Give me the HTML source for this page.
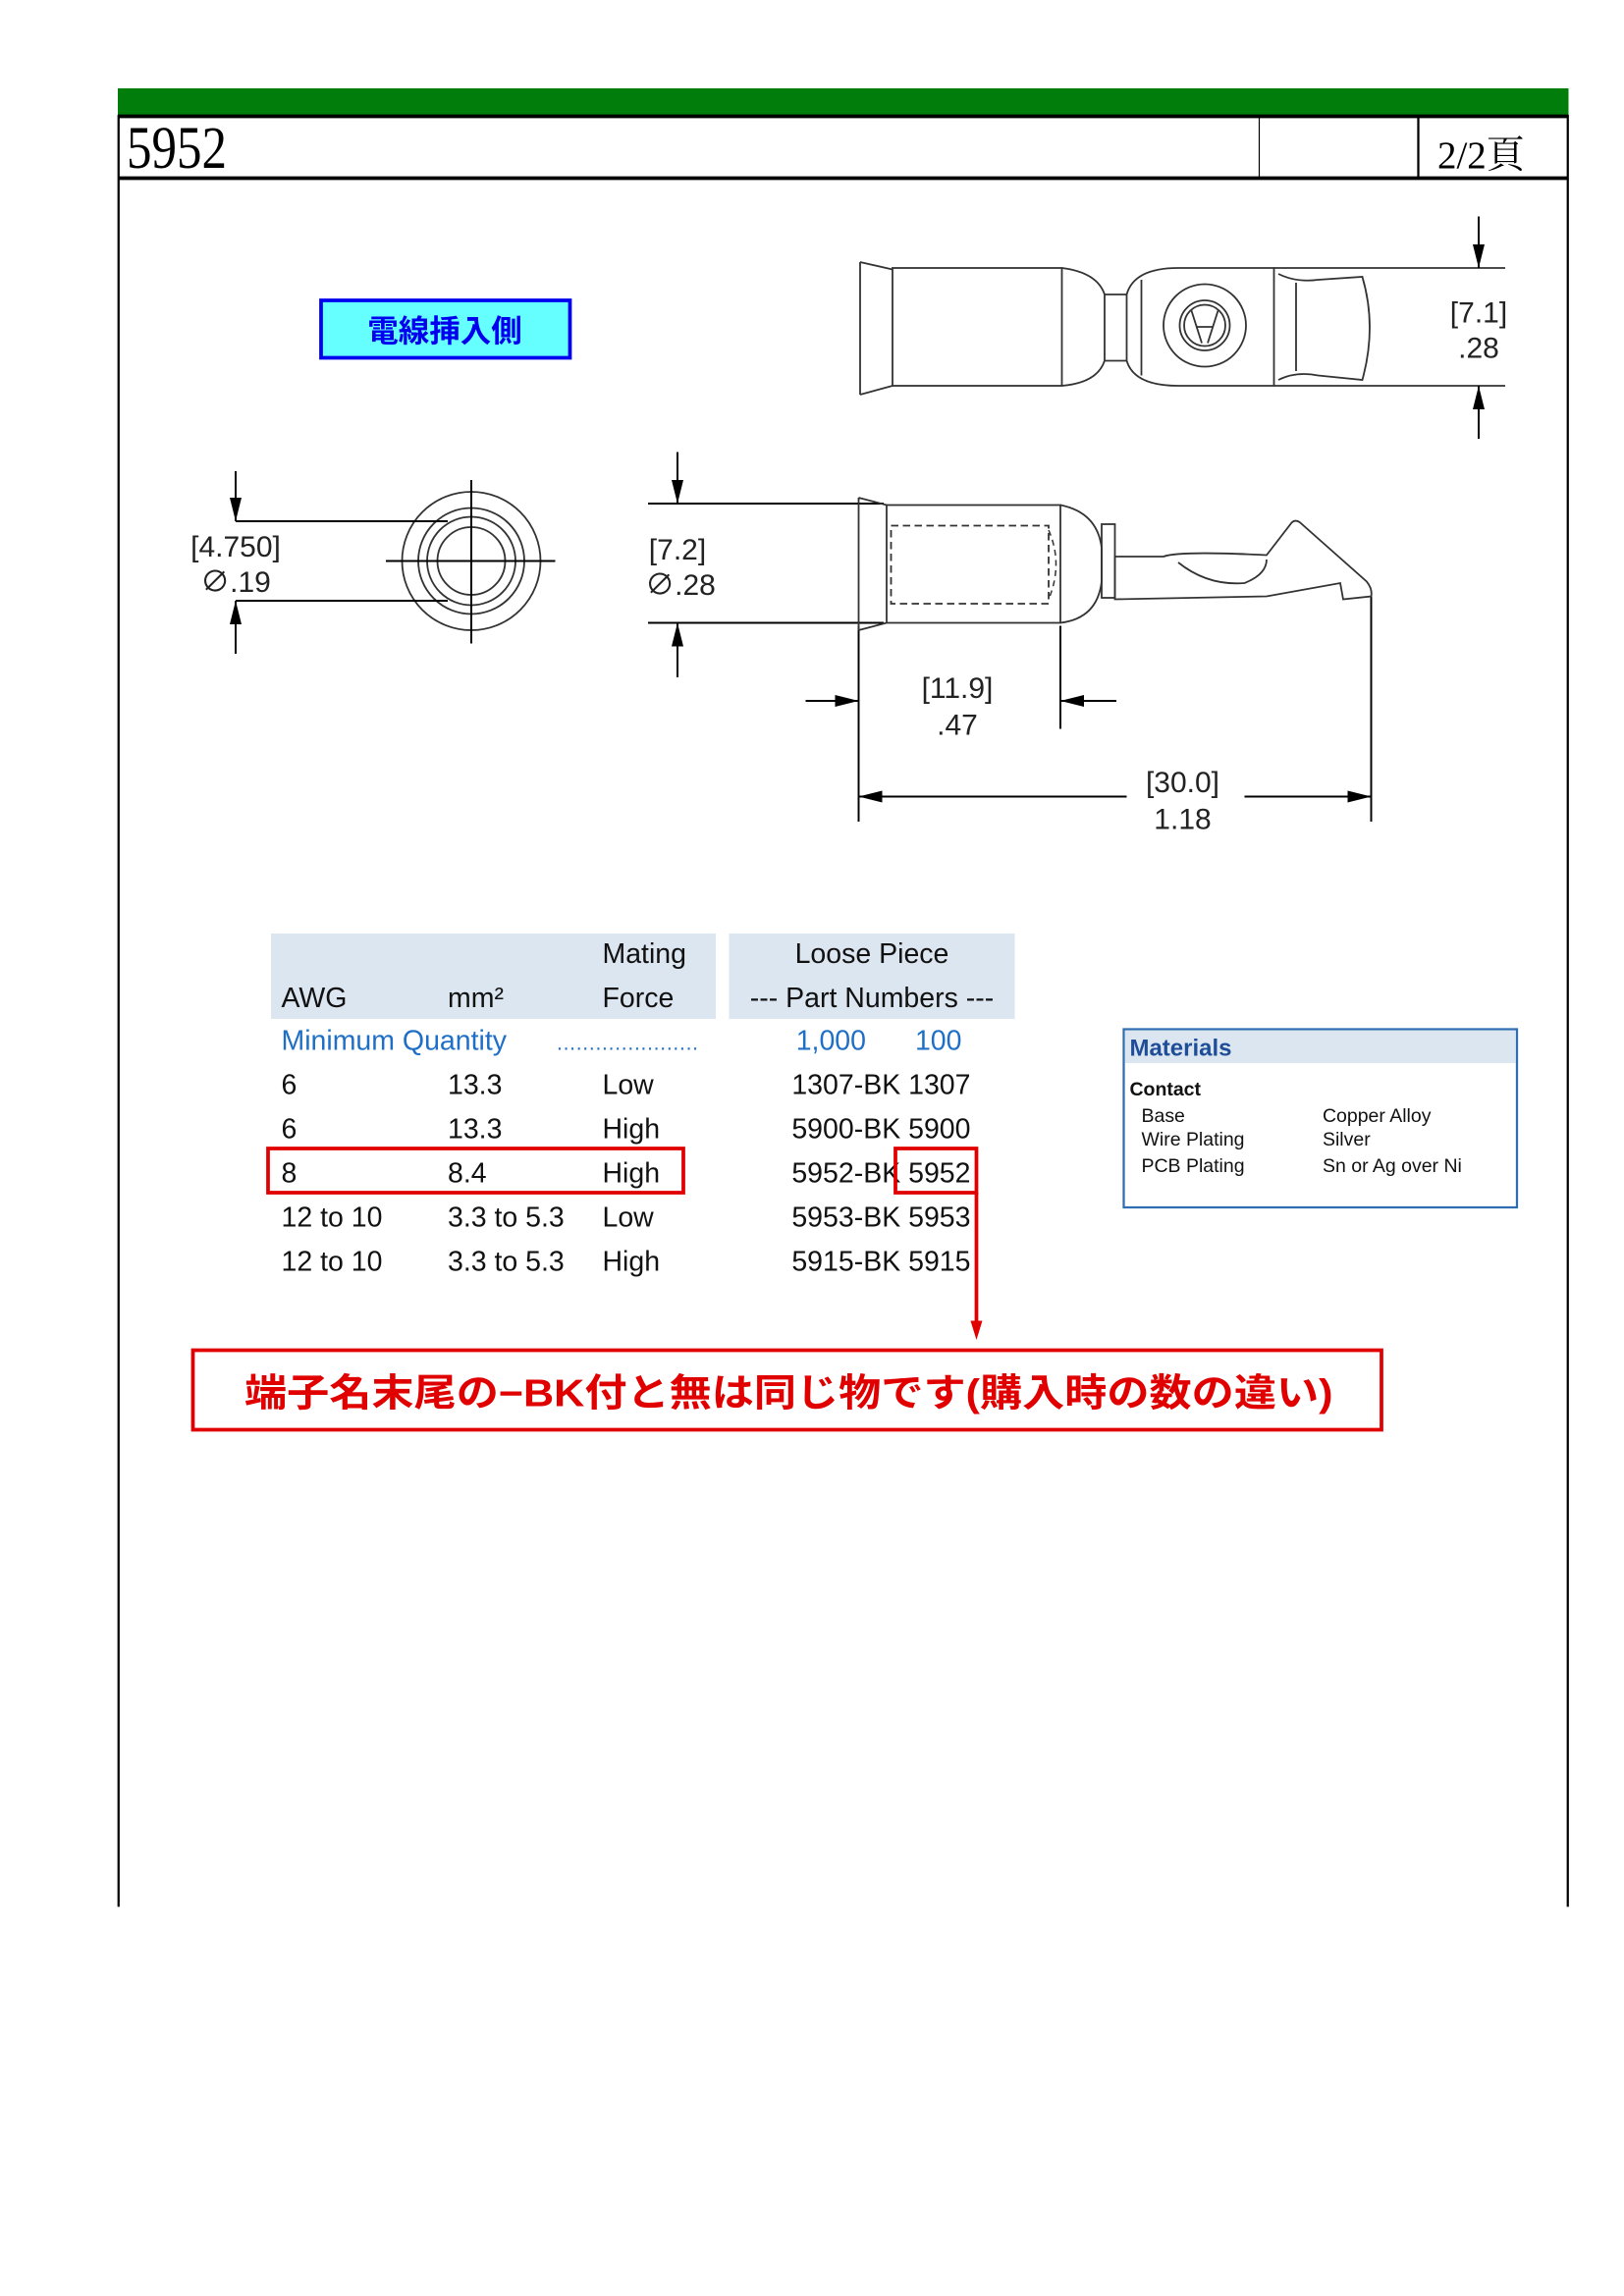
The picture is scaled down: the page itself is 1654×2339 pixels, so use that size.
<!DOCTYPE html>
<html><head><meta charset="utf-8"><style>
html,body{margin:0;padding:0;background:#fff}
svg{display:block}
text{font-family:"Liberation Sans","Noto Sans CJK JP",sans-serif}
</style></head><body>
<svg width="1654" height="2339" viewBox="0 0 1102.67 1559.33" preserveAspectRatio="none" xmlns="http://www.w3.org/2000/svg">
<!-- frame -->
<rect x="80" y="60" width="985" height="18" fill="#007d0a"/>
<line x1="80" y1="79" x2="1065" y2="79" stroke="#000" stroke-width="2.5"/>
<line x1="80" y1="121" x2="1065" y2="121" stroke="#000" stroke-width="2.5"/>
<line x1="80.5" y1="78" x2="80.5" y2="1295" stroke="#000" stroke-width="1.5"/>
<line x1="1064.5" y1="78" x2="1064.5" y2="1295" stroke="#000" stroke-width="1.5"/>
<line x1="855" y1="80" x2="855" y2="121" stroke="#000" stroke-width="0.8"/>
<line x1="963" y1="80" x2="963" y2="121" stroke="#000" stroke-width="1.5"/>
<text x="86" y="114" font-size="34" style="font-family:'Liberation Serif',serif" transform="translate(86,114) scale(1,1.2) translate(-86,-114)">5952</text>
<text x="976" y="114" font-size="26" style="font-family:'Liberation Serif','Noto Serif CJK SC',serif">2/2頁</text>

<!-- blue label -->
<rect x="218" y="204" width="169" height="39" fill="#66ffff" stroke="#0000ee" stroke-width="2.5"/>
<text x="302" y="232" font-size="21" font-weight="bold" fill="#0000ee" text-anchor="middle">電線挿入側</text>

<!-- top view -->
<g fill="none" stroke="#333" stroke-width="1.2">
<path d="M584,178 L584,268 M584,178 L606,183 M584,268 L606,262"/>
<rect x="606" y="182" width="115" height="80"/>
<path d="M721,182 Q745,185 750,200 L750,245 Q745,260 721,262"/>
<path d="M750,200 L765,200 M750,245 L765,245"/>
<path d="M765,200 Q770,182 800,182 L865,182 L865,262 L800,262 Q770,262 765,245 Z"/>
<line x1="775" y1="190" x2="775" y2="255"/>
<circle cx="818" cy="221" r="28"/>
<circle cx="818" cy="221" r="17"/>
<circle cx="818" cy="221" r="14"/>
<path d="M809,211 L816,233 M827,211 L820,233 M812,222 L824,222"/>
<path d="M865,182 L1022,182 M865,262 L1022,262"/>
<path d="M868,186 Q880,192 895,190 L925,188 Q935,222 925,258 L895,255 Q880,252 868,258"/>
<line x1="880" y1="192" x2="880" y2="252"/>
</g>
<g stroke="#000" stroke-width="1.3">
<line x1="1004" y1="147" x2="1004" y2="182"/>
<line x1="1004" y1="262" x2="1004" y2="298"/>
</g>
<path d="M1000,166 L1008,166 L1004,182 Z M1000,278 L1008,278 L1004,262 Z" fill="#000"/>
<text x="1004" y="219" font-size="20" text-anchor="middle" fill="#222">[7.1]</text>
<text x="1004" y="243" font-size="20" text-anchor="middle" fill="#222">.28</text>

<!-- circle end view -->
<g fill="none" stroke="#333" stroke-width="1.2">
<circle cx="320" cy="381" r="47"/>
<circle cx="320" cy="381" r="36"/>
<circle cx="320" cy="381" r="30"/>
<circle cx="320" cy="381" r="23"/>
</g>
<g stroke="#000" stroke-width="1.3">
<line x1="262" y1="381" x2="377" y2="381"/>
<line x1="320" y1="326" x2="320" y2="437"/>
<line x1="160" y1="354" x2="304" y2="354"/>
<line x1="160" y1="408" x2="304" y2="408"/>
<line x1="160" y1="320" x2="160" y2="354"/>
<line x1="160" y1="408" x2="160" y2="444"/>
</g>
<path d="M156,338 L164,338 L160,354 Z M156,424 L164,424 L160,408 Z" fill="#000"/>
<text x="160" y="378" font-size="20" text-anchor="middle" fill="#222">[4.750]</text>
<text x="160" y="402" font-size="20" text-anchor="middle" fill="#222">∅.19</text>

<!-- side view -->
<g stroke="#000" stroke-width="1.3">
<line x1="440" y1="342" x2="600" y2="342"/>
<line x1="440" y1="423" x2="600" y2="423"/>
<line x1="460" y1="307" x2="460" y2="342"/>
<line x1="460" y1="423" x2="460" y2="460"/>
<line x1="583" y1="425" x2="583" y2="558"/>
<line x1="720" y1="425" x2="720" y2="495"/>
<line x1="931" y1="405" x2="931" y2="558"/>
<line x1="547" y1="476" x2="583" y2="476"/>
<line x1="720" y1="476" x2="758" y2="476"/>
<line x1="583" y1="541" x2="765" y2="541"/>
<line x1="845" y1="541" x2="931" y2="541"/>
</g>
<path d="M456,326 L464,326 L460,342 Z M456,439 L464,439 L460,423 Z M567,472 L567,480 L583,476 Z M736,472 L736,480 L720,476 Z M599,537 L599,545 L583,541 Z M915,537 L915,545 L931,541 Z" fill="#000"/>
<g fill="none" stroke="#333" stroke-width="1.2">
<path d="M583,338 L583,428 M583,338 L602,343 M583,428 L602,423"/>
<rect x="602" y="343" width="118" height="80"/>
<path d="M720,343 Q745,348 748,372 L748,395 Q745,420 720,423"/>
<rect x="748" y="356" width="9" height="50"/>
<path d="M757,378 L790,378 Q800,374 860,377 L877,355 Q880,352 884,356 L928,395 Q932,400 931,405 L912,407 L910,396 L860,405 L757,407 Z"/>
<path d="M800,382 Q820,398 845,396 Q860,390 860,380"/>
</g>
<rect x="605" y="357" width="107" height="53" fill="none" stroke="#333" stroke-width="1.2" stroke-dasharray="5,3"/>
<path d="M712,360 Q722,383 712,407" fill="none" stroke="#333" stroke-dasharray="4,3"/>
<text x="460" y="380" font-size="20" text-anchor="middle" fill="#222">[7.2]</text>
<text x="462" y="404" font-size="20" text-anchor="middle" fill="#222">∅.28</text>
<text x="650" y="474" font-size="20" text-anchor="middle" fill="#222">[11.9]</text>
<text x="650" y="499" font-size="20" text-anchor="middle" fill="#222">.47</text>
<text x="803" y="538" font-size="20" text-anchor="middle" fill="#222">[30.0]</text>
<text x="803" y="563" font-size="20" text-anchor="middle" fill="#222">1.18</text>

<!-- table -->
<rect x="184" y="634" width="302" height="58" fill="#dce6f1"/>
<rect x="495" y="634" width="194" height="58" fill="#dce6f1"/>
<g font-size="19" fill="#111">
<text x="409" y="654">Mating</text>
<text x="592" y="654" text-anchor="middle">Loose Piece</text>
<text x="191" y="684">AWG</text>
<text x="304" y="684">mm²</text>
<text x="409" y="684">Force</text>
<text x="592" y="684" text-anchor="middle">--- Part Numbers ---</text>
</g>
<g font-size="19" fill="#1f6fc6">
<text x="191" y="713">Minimum Quantity</text>
<text x="378" y="713" font-size="14" letter-spacing="0.5">......................</text>
<text x="588" y="713" text-anchor="end">1,000</text>
<text x="653" y="713" text-anchor="end">100</text>
</g>
<g font-size="19" fill="#111">
<text x="191" y="743">6</text><text x="304" y="743">13.3</text><text x="409" y="743">Low</text><text x="659" y="743" text-anchor="end">1307-BK 1307</text>
<text x="191" y="773">6</text><text x="304" y="773">13.3</text><text x="409" y="773">High</text><text x="659" y="773" text-anchor="end">5900-BK 5900</text>
<text x="191" y="803">8</text><text x="304" y="803">8.4</text><text x="409" y="803">High</text><text x="659" y="803" text-anchor="end">5952-BK 5952</text>
<text x="191" y="833">12 to 10</text><text x="304" y="833">3.3 to 5.3</text><text x="409" y="833">Low</text><text x="659" y="833" text-anchor="end">5953-BK 5953</text>
<text x="191" y="863">12 to 10</text><text x="304" y="863">3.3 to 5.3</text><text x="409" y="863">High</text><text x="659" y="863" text-anchor="end">5915-BK 5915</text>
</g>
<g fill="none" stroke="#e00000" stroke-width="2.5">
<rect x="182" y="780" width="282" height="30"/>
<rect x="608" y="780" width="55" height="30"/>
<line x1="663" y1="810" x2="663" y2="898"/>
<rect x="131" y="917" width="807" height="54"/>
</g>
<path d="M659,897 L667,897 L663,910 Z" fill="#e00000"/>
<text x="166" y="955" font-size="26" font-weight="bold" fill="#e00000" textLength="739" lengthAdjust="spacingAndGlyphs">端子名末尾の−BK付と無は同じ物です(購入時の数の違い)</text>

<!-- materials -->
<rect x="763" y="699" width="267" height="121" fill="#fff" stroke="#2e6db0" stroke-width="1.5"/>
<rect x="764" y="700" width="265" height="22" fill="#dce6f1"/>
<text x="767" y="717" font-size="16" font-weight="bold" fill="#1f4e99">Materials</text>
<g font-size="13" fill="#111">
<text x="767" y="744" font-weight="bold">Contact</text>
<text x="775" y="762">Base</text><text x="898" y="762">Copper Alloy</text>
<text x="775" y="778">Wire Plating</text><text x="898" y="778">Silver</text>
<text x="775" y="796">PCB Plating</text><text x="898" y="796">Sn or Ag over Ni</text>
</g>
</svg>
</body></html>
